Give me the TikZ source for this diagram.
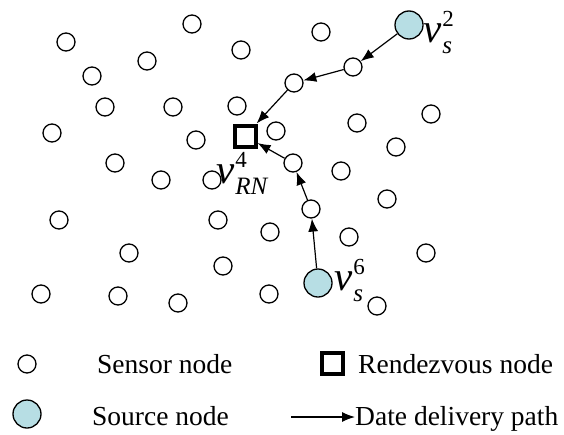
\documentclass[tikz,border=0pt]{standalone}
\usepackage{fontspec}
\setmainfont{Liberation Serif}
\usepackage{tikz}
\usetikzlibrary{arrows.meta}

\definecolor{srcblue}{RGB}{183,222,228}

% v mit index und hochzahl
\newcommand{\vlab}[2]{\fontsize{41}{41}\selectfont\itshape v\kern1pt\rlap{\raisebox{-11pt}{\fontsize{25}{25}\selectfont #1}}\raisebox{16pt}{\fontsize{23}{23}\selectfont\upshape #2}}

\begin{document}
\begin{tikzpicture}[x=1pt, y=-1pt,
  sensor/.style={draw, circle, line width=1.3pt, minimum size=18pt, inner sep=0pt},
  source/.style={draw, circle, fill=srcblue, line width=1.3pt, minimum size=28pt, inner sep=0pt},
  rendez/.style={draw, rectangle, line width=4pt, minimum size=21pt, inner sep=0pt},
  deliv/.style={line width=1.2pt, -{Latex[length=13pt,width=10pt]}},
  vtext/.style={anchor=base west, inner sep=0pt},
  legtext/.style={anchor=base west, inner sep=0pt, font=\fontsize{27.5}{30}\selectfont}]

\useasboundingbox (0,0) rectangle (564,434);

% sensorknoten
\node[sensor] (n1) at (66,42) {};
\node[sensor] (n2) at (192,24) {};
\node[sensor] (n3) at (241,50) {};
\node[sensor] (n4) at (147,61) {};
\node[sensor] (n5) at (92,76) {};
\node[sensor] (n6) at (321,32) {};
\node[sensor] (n7) at (105,107) {};
\node[sensor] (n8) at (173,107) {};
\node[sensor] (n9) at (237,106) {};
\node[sensor] (n10) at (52,133) {};
\node[sensor] (n11) at (196,140) {};
\node[sensor] (n12) at (276,131) {};
\node[sensor] (n13) at (357,123) {};
\node[sensor] (n14) at (431,114) {};
\node[sensor] (n15) at (115,163) {};
\node[sensor] (n16) at (161,180) {};
\node[sensor] (n17) at (212,180) {};
\node[sensor] (n18) at (396,147) {};
\node[sensor] (n19) at (341,171) {};
\node[sensor] (n20) at (59,220) {};
\node[sensor] (n21) at (218,220) {};
\node[sensor] (n22) at (270,232) {};
\node[sensor] (n23) at (129,253) {};
\node[sensor] (n24) at (223,266) {};
\node[sensor] (n25) at (387,199) {};
\node[sensor] (n26) at (349,237) {};
\node[sensor] (n27) at (426,253) {};
\node[sensor] (n28) at (41,294) {};
\node[sensor] (n29) at (118,296) {};
\node[sensor] (n30) at (178,303) {};
\node[sensor] (n31) at (269,294) {};
\node[sensor] (n32) at (377,306) {};

% knoten auf den pfaden
\node[sensor] (p1) at (353,67) {};
\node[sensor] (p2) at (294,83) {};
\node[sensor] (p3) at (293,163) {};
\node[sensor] (p4) at (311,209) {};

% quellen und treffpunkt
\node[source] (S2) at (409,25) {};
\node[source] (S6) at (318,283) {};
\node[rendez] (RN) at (245,136) {};

\node[vtext] (L2) at (423,42) {\vlab{s}{2}};
\node[vtext] (L6) at (334,290) {\vlab{s}{6}};
\node[vtext] (L4) at (216,183) {\vlab{RN}{4}};

% pfade
\draw[deliv] (S2) -- (p1);
\draw[deliv] (p1) -- (p2);
\draw[deliv] (p2) -- (RN);
\draw[deliv] (S6) -- (p4);
\draw[deliv] (p4) -- (p3);
\draw[deliv] (p3) -- (RN);

% legende
\node[sensor] (ksensor) at (27,364) {};
\node[legtext] (tsensor) at (97,373) {Sensor node};
\node[source] (ksource) at (27,414) {};
\node[legtext] (tsource) at (92,425) {Source node};
\node[rendez] (krn) at (332,363) {};
\node[legtext] (trn) at (358,373) {Rendezvous node};
\coordinate (apath) at (291,417);
\node[legtext] (tpath) at (355,425) {Date delivery path};
\draw[deliv] (apath) -- (tpath.west |- apath);

\end{tikzpicture}
\end{document}
